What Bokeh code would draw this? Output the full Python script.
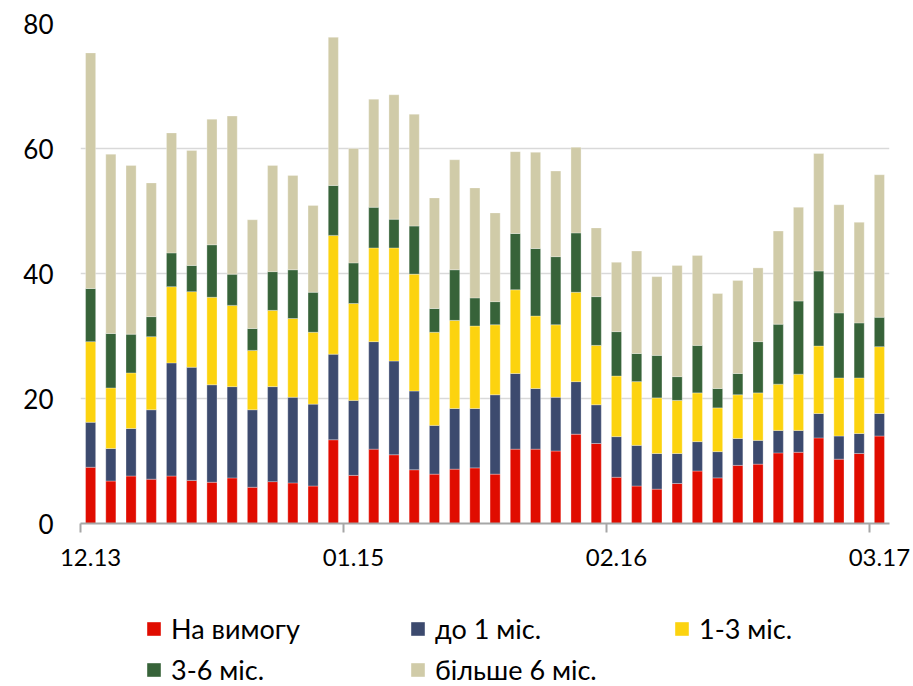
from bokeh.plotting import figure
from bokeh.layouts import column
from bokeh.models import (Range1d, FixedTicker, LinearAxis, Legend, LegendItem,
                          ColumnDataSource)
from bokeh.embed import file_html
from bokeh.resources import INLINE

# ---- data ----
months = ["12.13", "01.14", "02.14", "03.14", "04.14", "05.14", "06.14", "07.14",
          "08.14", "09.14", "10.14", "11.14", "12.14", "01.15", "02.15", "03.15",
          "04.15", "05.15", "06.15", "07.15", "08.15", "09.15", "10.15", "11.15",
          "12.15", "01.16", "02.16", "03.16", "04.16", "05.16", "06.16", "07.16",
          "08.16", "09.16", "10.16", "11.16", "12.16", "01.17", "02.17", "03.17"]

on_demand = [9.0, 6.8, 7.6, 7.1, 7.6, 6.9, 6.6, 7.3, 5.8, 6.7, 6.5, 6.0, 13.4,
             7.7, 11.9, 11.0, 8.6, 7.9, 8.7, 8.9, 7.9, 11.9, 11.9, 11.6, 14.3,
             12.8, 7.4, 6.0, 5.5, 6.4, 8.4, 7.3, 9.3, 9.5, 11.3, 11.4, 13.7,
             10.3, 11.2, 14.0]
upto_1m = [7.2, 5.2, 7.6, 11.1, 18.1, 18.1, 15.6, 14.6, 12.4, 15.2, 13.7, 13.1, 13.7,
           12.0, 17.2, 15.0, 12.6, 7.8, 9.7, 9.5, 12.7, 12.1, 9.7, 8.6, 8.4,
           6.2, 6.5, 6.5, 5.7, 4.8, 4.7, 4.2, 4.3, 3.8, 3.6, 3.5, 3.9,
           3.7, 3.2, 3.6]
m1_3 = [12.9, 9.7, 8.9, 11.7, 12.2, 12.1, 14.0, 13.0, 9.5, 12.2, 12.6, 11.5, 19.0,
        15.5, 15.0, 18.1, 18.7, 14.9, 14.1, 13.2, 11.2, 13.4, 11.6, 11.6, 14.3,
        9.5, 9.7, 10.2, 8.9, 8.5, 7.8, 7.0, 7.0, 7.6, 7.4, 9.0, 10.8,
        9.3, 8.9, 10.7]
m3_6 = [8.5, 8.7, 6.2, 3.2, 5.4, 4.2, 8.4, 5.0, 3.5, 6.2, 7.8, 6.4, 8.0,
        6.5, 6.5, 4.6, 7.7, 3.8, 8.1, 4.5, 3.7, 9.0, 10.8, 10.9, 9.5,
        7.8, 7.1, 4.5, 6.8, 3.8, 7.6, 3.1, 3.4, 8.2, 9.6, 11.7, 12.0,
        10.4, 8.8, 4.7]
over_6m = [37.7, 28.7, 27.0, 21.4, 19.2, 18.4, 20.1, 25.3, 17.4, 17.0, 15.1, 13.9, 23.7,
           18.3, 17.3, 19.9, 17.9, 17.7, 17.6, 17.6, 14.2, 13.1, 15.4, 13.7, 13.7,
           11.0, 11.1, 16.4, 12.6, 17.8, 14.4, 15.2, 14.9, 11.8, 14.9, 15.0, 18.8,
           17.3, 16.1, 22.8]

series_names = ["На вимогу", "до 1 міс.", "1-3 міс.", "3-6 міс.", "більше 6 міс."]
series_keys = ["on_demand", "upto_1m", "m1_3", "m3_6", "over_6m"]
colors = ["#E00C00", "#3C4A6E", "#FCD30F", "#376339", "#D0CBA8"]

label_idx = [0, 13, 26, 39]          # months shown on the axis
y_ticks = [0, 20, 40, 60, 80]

FONT = "Lato"

source = ColumnDataSource(dict(
    x=list(range(len(months))),
    on_demand=on_demand, upto_1m=upto_1m, m1_3=m1_3, m3_6=m3_6, over_6m=over_6m,
))

p = figure(width=913, height=583,
           x_range=Range1d(-0.5, len(months) - 0.5), y_range=Range1d(0, 80),
           output_backend="svg", toolbar_location=None,
           min_border_left=80, min_border_right=24, min_border_top=23,
           min_border_bottom=60, x_axis_location=None, y_axis_location=None)
p.outline_line_color = None
p.background_fill_color = "white"
p.border_fill_color = "white"

renderers = p.vbar_stack(series_keys, x="x", width=0.5, source=source,
                         color=colors, line_color="white", line_width=0.6,
                         line_alpha=0.5)

# y axis
yaxis = LinearAxis(ticker=FixedTicker(ticks=y_ticks))
yaxis.axis_line_color = None
yaxis.major_tick_line_color = None
yaxis.major_tick_out = 0
yaxis.major_tick_in = 0
yaxis.minor_tick_line_color = None
yaxis.major_label_standoff = 27
yaxis.major_label_text_font = FONT
yaxis.major_label_text_font_size = "26px"
yaxis.major_label_text_color = "black"
p.add_layout(yaxis, "left")

# x axis: tick marks at category boundaries
xaxis_ticks = LinearAxis(ticker=FixedTicker(ticks=[i - 0.5 for i in label_idx]))
xaxis_ticks.axis_line_color = "#A6A6A6"
xaxis_ticks.axis_line_width = 2
xaxis_ticks.major_tick_line_color = "#A6A6A6"
xaxis_ticks.major_tick_line_width = 2
xaxis_ticks.major_tick_out = 9
xaxis_ticks.major_tick_in = 0
xaxis_ticks.minor_tick_line_color = None
xaxis_ticks.major_label_text_font_size = "1px"
xaxis_ticks.major_label_text_color = None
xaxis_ticks.major_label_standoff = 0
p.add_layout(xaxis_ticks, "below")

# x axis: month labels centred on their bars
xaxis_lab = LinearAxis(ticker=FixedTicker(ticks=label_idx))
xaxis_lab.major_label_overrides = {i: months[i] for i in label_idx}
xaxis_lab.axis_line_color = None
xaxis_lab.major_tick_line_color = None
xaxis_lab.major_tick_out = 0
xaxis_lab.major_tick_in = 0
xaxis_lab.minor_tick_line_color = None
xaxis_lab.major_label_standoff = 16
xaxis_lab.major_label_text_font = FONT
xaxis_lab.major_label_text_font_size = "24px"
xaxis_lab.major_label_text_color = "black"
p.add_layout(xaxis_lab, "below")

# grid
p.ygrid.ticker = FixedTicker(ticks=y_ticks)
p.ygrid.grid_line_color = "#D9D9D9"
p.ygrid.grid_line_width = 1.5
p.xgrid.grid_line_color = None

# ---- legend panel (separate figure below the chart; frames are aligned) ----
pl = figure(width=913, height=103, x_range=Range1d(0, 1), y_range=Range1d(0, 1),
            output_backend="svg", toolbar_location=None,
            min_border_left=0, min_border_right=0, min_border_top=0,
            min_border_bottom=0, x_axis_location=None, y_axis_location=None)
pl.outline_line_color = None
pl.xgrid.grid_line_color = None
pl.ygrid.grid_line_color = None
# zero-size swatch renderers: only their colours are used by the legend
swatches = [pl.vbar(x=[0], top=[0], bottom=[0], width=0, fill_color=c, line_color=None)
            for c in colors]

legend = Legend(items=[LegendItem(label=n, renderers=[r]) for n, r in zip(series_names, swatches)],
                location=(65, 0), orientation="horizontal", ncols=3)
legend.padding = 0
legend.margin = 0
legend.spacing = 8
legend.glyph_width = 17
legend.glyph_height = 17
legend.label_standoff = 9
legend.label_width = 230
legend.label_height = 30
legend.label_text_font = FONT
legend.label_text_font_size = "27px"
legend.label_text_color = "black"
legend.border_line_color = None
legend.background_fill_alpha = 0
pl.add_layout(legend, "center")

layout = column(p, pl, spacing=0)
open("out.html", "w").write(file_html(layout, INLINE))
